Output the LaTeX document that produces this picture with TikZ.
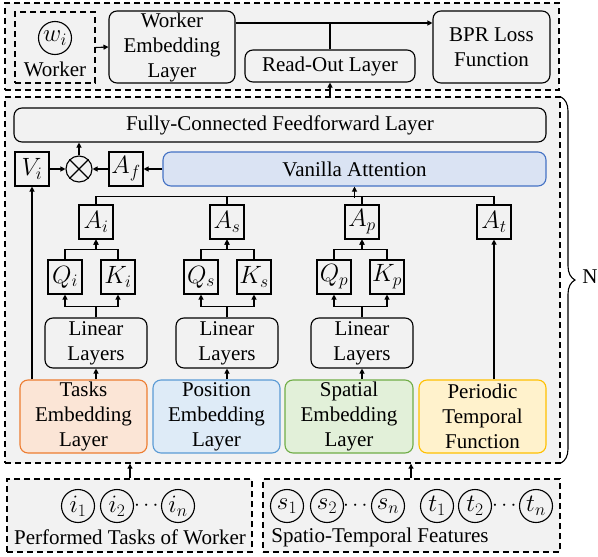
\documentclass[tikz,border=0pt]{standalone}
\usepackage{fix-cm}
\usepackage{amsmath}
\usepackage{fontspec}
\setmainfont{Liberation Serif}
\usetikzlibrary{calc, positioning}
\usetikzlibrary{arrows.meta}
\usetikzlibrary{decorations.pathreplacing}

\definecolor{panel}{HTML}{F2F2F2}
\definecolor{taskfill}{HTML}{FBE5D6}
\definecolor{taskline}{HTML}{ED7D31}
\definecolor{posfill}{HTML}{DEEBF7}
\definecolor{posline}{HTML}{5B9BD5}
\definecolor{spafill}{HTML}{E2F0D9}
\definecolor{spaline}{HTML}{70AD47}
\definecolor{perfill}{HTML}{FFF2CC}
\definecolor{perline}{HTML}{FFC000}
\definecolor{attfill}{HTML}{DAE3F3}
\definecolor{attline}{HTML}{4472C4}

\tikzset{
  dashbox/.style={draw, fill=panel, line width=1.4pt, dash pattern=on 6pt off 4pt, inner sep=0pt},
  layer/.style={draw, line width=1.1pt, rounded corners=8pt, align=center, inner sep=0pt},
  sym/.style={font=\fontsize{25}{28}\selectfont},
  mat/.style={draw, sym, line width=1.1pt, minimum size=34pt, inner sep=0pt},
  tok/.style={draw, sym, circle, line width=1.1pt, minimum size=33pt, inner sep=0pt},
  arr/.style={line width=1.1pt, -{Triangle[length=5pt, width=5pt]}},
  link/.style={line width=1.1pt},
}

\begin{document}
\begin{tikzpicture}[x=1pt, y=-1pt, font=\fontsize{21}{25}\selectfont]
\useasboundingbox (0,0) rectangle (598,557);

% worker branch and output
\node[dashbox, minimum width=554pt, minimum height=87pt] (toppanel) at (282,46.5) {};
\node[dashbox, minimum width=80pt, minimum height=71pt] (worker) at (55,47.5) {};
\node[tok] (wi) at (55,38) {$w_i$};
\node (workertxt) at (55,69) {Worker};
\node[layer, minimum width=126pt, minimum height=72pt] (wel) at (172,47) {Worker\\Embedding\\Layer};
\node[layer, minimum width=170pt, minimum height=32pt] (rol) at (330,66) {Read-Out Layer};
\node[layer, minimum width=117pt, minimum height=72pt] (bpr) at (491.5,47) {BPR Loss\\Function};

\draw[arr] (worker.east) -- (wel.west);
\draw[arr] (wel.east |- 0,23) -- (bpr.west |- 0,23);
\draw[link] (rol.north) -- (rol.north |- 0,23);

% encoder block
\node[dashbox, minimum width=555pt, minimum height=366pt] (enc) at (282.5,280) {};
\draw[line width=1.1pt, decorate, decoration={brace, amplitude=14pt}] (561,97) -- (561,463);
\node (reps) at (590,277) {N};

\node[layer, minimum width=532pt, minimum height=34pt] (fc) at (280,125) {Fully-Connected Feedforward Layer};
\node[mat] (vi) at (32,169) {$V_i$};
\node[draw, circle, line width=1.1pt, minimum size=26pt, inner sep=0pt] (ot) at (79,169) {};
\draw[line width=1.1pt] (ot.north east) -- (ot.south west) (ot.north west) -- (ot.south east);
\node[mat] (af) at (126,169) {$A_f$};
\node[layer, draw=attline, fill=attfill, minimum width=383pt, minimum height=34pt] (va) at (354.5,169) {Vanilla Attention};

\draw[arr] (vi.east) -- (ot.west);
\draw[arr] (af.west) -- (ot.east);
\draw[arr] (va.west) -- (af.east);
\draw[arr] (ot.north) -- (ot.north |- fc.south);

% attention maps
\node[mat] (ai) at (96,222) {$A_i$};
\node[mat] (as) at (227,222) {$A_s$};
\node[mat] (ap) at (362,222) {$A_p$};
\node[mat] (at) at (494,222) {$A_t$};

\node[mat] (qi) at (65,277) {$Q_i$};
\node[mat] (ki) at (118,277) {$K_i$};
\node[mat] (qs) at (201,277) {$Q_s$};
\node[mat] (ks) at (254,277) {$K_s$};
\node[mat] (qp) at (334,277) {$Q_p$};
\node[mat] (kp) at (387,277) {$K_p$};

\node[layer, minimum width=102pt, minimum height=50pt] (lini) at (96,343) {Linear\\Layers};
\node[layer, minimum width=102pt, minimum height=50pt] (lins) at (227,343) {Linear\\Layers};
\node[layer, minimum width=102pt, minimum height=50pt] (linp) at (362,343) {Linear\\Layers};

% embeddings
\node[layer, draw=taskline, fill=taskfill, minimum width=127pt, minimum height=73pt] (tasks) at (83.5,416.5) {Tasks\\Embedding\\Layer};
\node[layer, draw=posline, fill=posfill, minimum width=127pt, minimum height=73pt] (pos) at (216.5,416.5) {Position\\Embedding\\Layer};
\node[layer, draw=spaline, fill=spafill, minimum width=128pt, minimum height=73pt] (spa) at (349,416.5) {Spatial\\Embedding\\Layer};
\node[layer, draw=perline, fill=perfill, minimum width=127pt, minimum height=73pt] (per) at (482.5,416.5) {Periodic\\Temporal\\Function};

\draw[arr] (tasks.north -| lini) -- (lini.south);
\draw[arr] (pos.north -| lins) -- (lins.south);
\draw[arr] (spa.north -| linp) -- (linp.south);
\draw[arr] (vi.south |- tasks.north) -- (vi.south);
\draw[arr] (at.south |- per.north) -- (at.south);

\draw[arr] (lini.north) -- ++(0,-11) -| (qi.south);
\draw[arr] (lini.north) -- ++(0,-11) -| (ki.south);
\draw[arr] (lins.north) -- ++(0,-11) -| (qs.south);
\draw[arr] (lins.north) -- ++(0,-11) -| (ks.south);
\draw[arr] (linp.north) -- ++(0,-11) -| (qp.south);
\draw[arr] (linp.north) -- ++(0,-11) -| (kp.south);

\draw[arr] (qi.north) -- ++(0,-10) -| (ai.south);
\draw[arr] (ki.north) -- ++(0,-10) -| (ai.south);
\draw[arr] (qs.north) -- ++(0,-10) -| (as.south);
\draw[arr] (ks.north) -- ++(0,-10) -| (as.south);
\draw[arr] (qp.north) -- ++(0,-10) -| (ap.south);
\draw[arr] (kp.north) -- ++(0,-10) -| (ap.south);

\draw[link] (ai.north) -- ++(0,-8) -| (at.north);
\draw[link] (as.north) -- ++(0,-8);
\draw[link] (ap.north) -- ++(0,-8);
\draw[arr] (va.south |- 0,198) -- (va.south);

% inputs
\node[dashbox, minimum width=245pt, minimum height=73pt] (perf) at (129.5,515.5) {};
\node[tok] (i1) at (78,506) {$i_1$};
\node[tok] (i2) at (117,506) {$i_2$};
\node (idots) at (148,506) {$\cdots$};
\node[tok] (in) at (178,506) {$i_n$};
\node (perftxt) at (130,537) {Performed Tasks of Worker};

\node[dashbox, minimum width=297pt, minimum height=73pt] (stf) at (411.5,515.5) {};
\node[tok] (s1) at (287,506) {$s_1$};
\node[tok] (s2) at (327,506) {$s_2$};
\node (sdots) at (357,506) {$\cdots$};
\node[tok] (sn) at (388,506) {$s_n$};
\node[tok] (t1) at (437,506) {$t_1$};
\node[tok] (t2) at (475,506) {$t_2$};
\node (tdots) at (506,506) {$\cdots$};
\node[tok] (tn) at (536,506) {$t_n$};
\node (stftxt) at (380,537) {Spatio-Temporal Features};

\draw[arr] (perf.north -| 130,0) -- (enc.south -| 130,0);
\draw[arr] (stf.north -| 411,0) -- (enc.south -| 411,0);
\draw[arr] (rol.south |- enc.north) -- (rol.south);
\end{tikzpicture}
\end{document}
